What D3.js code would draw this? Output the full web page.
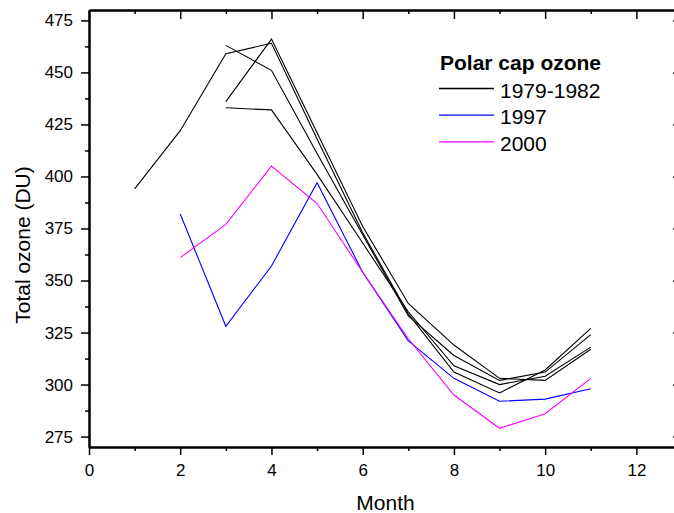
<!DOCTYPE html>
<html lang="en">
<head>
  <meta charset="UTF-8">
  <title>Polar cap ozone</title>
  <script src="https://cdn.jsdelivr.net/npm/d3@7"></script>
  <style>
    body { margin: 0; background: #fff; }
    svg { display: block; font-family: "Liberation Sans", Arial, sans-serif; }
    .axis path { stroke: #000; stroke-width: 2; }
    .axis line { stroke: #000; stroke-width: 1.5; }
    .axis text { font-size: 17px; fill: #000; font-family: "Liberation Sans", Arial, sans-serif; }
  </style>
</head>
<body>
  <script>
    // data
    var months = [1, 2, 3, 4, 5, 6, 7, 8, 9, 10, 11]
    var y1979 = [394, 422, 459, 464, 418, 373, 334, 306, 296, 307, 327]
    var y1980 = [null, null, 463, 451, 411, 372, 333, 314, 302, 306, 324]
    var y1981 = [null, null, 436, 466, 421, 376, 339, 319, 303, 302, 317]
    var y1982 = [null, null, 433, 432, 401, 368, 335, 309, 300, 304, 318]
    var y1997 = [null, 382, 328, 357, 397, 354, 321, 303, 292, 293, 298]
    var y2000 = [null, 361, 377, 405, 387, 354, 322, 295, 279, 286, 303]
    var xMajor = [0, 2, 4, 6, 8, 10, 12]
    var xMinor = [1, 3, 5, 7, 9, 11]
    var yMajor = [275, 300, 325, 350, 375, 400, 425, 450, 475]
    var yMinor = [287.5, 312.5, 337.5, 362.5, 387.5, 412.5, 437.5, 462.5]

    var series = [
      { name: '1979', vals: y1979, color: '#000000' },
      { name: '1980', vals: y1980, color: '#000000' },
      { name: '1981', vals: y1981, color: '#000000' },
      { name: '1982', vals: y1982, color: '#000000' },
      { name: '1997', vals: y1997, color: '#0000ff' },
      { name: '2000', vals: y2000, color: '#ff00ff' }
    ]
    var legendItems = [
      { label: '1979-1982', color: '#000000' },
      { label: '1997', color: '#0000ff' },
      { label: '2000', color: '#ff00ff' }
    ]

    var w = 674, h = 513
    // plot frame (window.top is reserved, so use a prefix)
    var pL = 89, pR = 682, pT = 10, pB = 447

    var x = d3.scaleLinear().domain([0, 13]).range([pL, pR])
    var y = d3.scaleLinear().domain([270, 480]).range([pB, pT])

    var svg = d3.select('body').append('svg').attr('width', w).attr('height', h)

    // lines
    var line = d3.line()
      .defined(function (d) { return d[1] != null })
      .x(function (d) { return x(d[0]) })
      .y(function (d) { return y(d[1]) })

    svg.selectAll('path.series').data(series).enter().append('path')
      .attr('class', 'series')
      .attr('fill', 'none')
      .attr('stroke', function (d) { return d.color })
      .attr('stroke-width', 1.1)
      .attr('d', function (d) {
        return line(months.map(function (m, i) { return [m, d.vals[i]] }))
      })

    // axes: major + minor ticks on all four sides
    function addAxis(gen, tr, vals, size, labels) {
      var a = gen.tickValues(vals).tickSize(size).tickSizeOuter(0)
      if (!labels) a.tickFormat('')
      var g = svg.append('g').attr('class', 'axis').attr('transform', tr).call(a)
      return g
    }
    var gb = addAxis(d3.axisBottom(x), 'translate(0,' + pB + ')', xMajor, 8, true)
    gb.selectAll('text').attr('dy', '1.05em')
    addAxis(d3.axisBottom(x), 'translate(0,' + pB + ')', xMinor, 4, false)
    var gl = addAxis(d3.axisLeft(y), 'translate(' + pL + ',0)', yMajor, 8, true)
    gl.selectAll('text').attr('x', -16)
    addAxis(d3.axisLeft(y), 'translate(' + pL + ',0)', yMinor, 4, false)
    addAxis(d3.axisBottom(x), 'translate(0,' + pT + ')', xMajor, 9, false)
    addAxis(d3.axisBottom(x), 'translate(0,' + pT + ')', xMinor, 4, false)
    addAxis(d3.axisLeft(y), 'translate(' + pR + ',0)', yMajor, 9, false)
    addAxis(d3.axisLeft(y), 'translate(' + pR + ',0)', yMinor, 4, false)

    // axis titles
    svg.append('text').attr('x', (pL + pR) / 2).attr('y', 510)
      .attr('text-anchor', 'middle').attr('font-size', 21).text('Month')
    svg.append('text').attr('transform', 'translate(30,245) rotate(-90)')
      .attr('text-anchor', 'middle').attr('font-size', 21).text('Total ozone (DU)')

    // legend
    var lg = svg.append('g').attr('transform', 'translate(440,0)')
    lg.append('text').attr('x', 0).attr('y', 70).attr('font-size', 21)
      .attr('font-weight', 'bold').text('Polar cap ozone')
    var item = lg.selectAll('g.item').data(legendItems).enter().append('g')
      .attr('class', 'item')
      .attr('transform', function (d, i) { return 'translate(0,' + (88.5 + i * 26.7) + ')' })
    item.append('line').attr('x1', -1).attr('x2', 54).attr('y1', 0).attr('y2', 0)
      .attr('stroke', function (d) { return d.color }).attr('stroke-width', 1.3)
    item.append('text').attr('x', 60).attr('y', 9).attr('font-size', 21)
      .text(function (d) { return d.label })
  </script>
</body>
</html>
